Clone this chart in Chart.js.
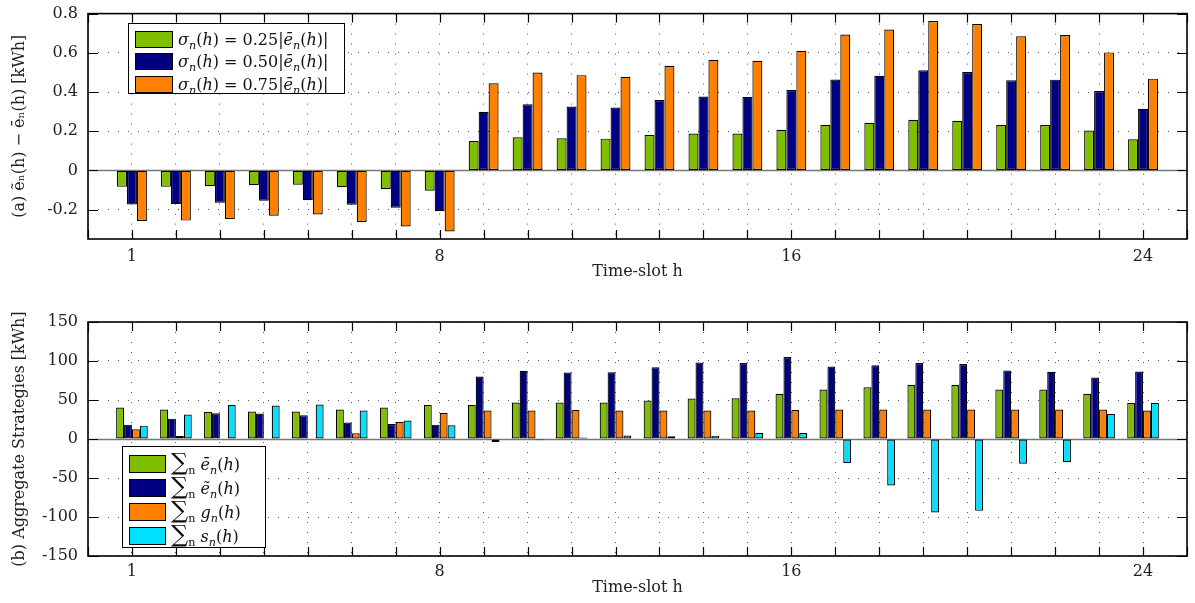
<!DOCTYPE html>
<html lang="en">
<head>
<meta charset="UTF-8">
<title>Deviation and aggregate strategies per time-slot</title>
<script src="https://cdn.jsdelivr.net/npm/chart.js"></script>
<style>
  body { margin: 0; background: #fff; font-family: "DejaVu Serif", "Liberation Serif", serif; color: #000; }
  #page { position: relative; width: 1195px; height: 603px; overflow: hidden; }
  canvas { position: absolute; left: 0; }
  #chartA { top: -6px; }
  #chartB { top: 300px; }
  .legend { position: absolute; background: #fff; border: 1px solid #000; box-sizing: border-box; font-size: 16px; color: #111; }
  #legendA { left: 128px; top: 23px; width: 217px; height: 71px; padding-top: 4px; }
  #legendB { left: 122px; top: 446px; width: 144px; height: 102px; padding-top: 5px; }
  .row { display: flex; align-items: center; padding-left: 6px; white-space: nowrap; }
  #legendA .row { height: 22.5px; }
  #legendB .row { height: 24px; }
  .sw { border: 1px solid #000; box-sizing: border-box; margin-right: 5px; flex: none; }
  #legendA .sw { width: 38px; height: 17px; }
  #legendB .sw { width: 37px; height: 18px; }
  sub { font-size: 70%; vertical-align: -0.35em; line-height: 0; }
  .sum { font-size: 24px; line-height: 0; }
</style>
</head>
<body>
<div id="page">
  <canvas id="chartA" width="1195" height="306"></canvas>
  <canvas id="chartB" width="1195" height="303"></canvas>
  <div id="legendA" class="legend"></div>
  <div id="legendB" class="legend"></div>
</div>
<script>
// time-slots 1..24, only some of them get a label
const slots = [1, 2, 3, 4, 5, 6, 7, 8, 9, 10, 11, 12, 13, 14, 15, 16, 17, 18, 19, 20, 21, 22, 23, 24];
const tickSlots = [1, 8, 16, 24];

// (a) deviation e~ - e_bar for the three sigma levels [kWh]
const dev25 = [-0.084, -0.084, -0.081, -0.076, -0.073, -0.086, -0.096, -0.104, 0.150, 0.169, 0.164, 0.162,
               0.180, 0.188, 0.188, 0.207, 0.233, 0.243, 0.258, 0.253, 0.231, 0.231, 0.203, 0.159];
const dev50 = [-0.174, -0.172, -0.165, -0.155, -0.152, -0.175, -0.190, -0.208, 0.299, 0.337, 0.326, 0.321,
               0.359, 0.377, 0.375, 0.410, 0.464, 0.483, 0.511, 0.502, 0.460, 0.463, 0.405, 0.314];
const dev75 = [-0.258, -0.256, -0.248, -0.231, -0.225, -0.263, -0.286, -0.312, 0.445, 0.499, 0.486, 0.478,
               0.534, 0.564, 0.559, 0.610, 0.693, 0.719, 0.762, 0.747, 0.684, 0.691, 0.602, 0.468];

// (b) aggregate strategies [kWh]
const sumEbar = [40.3, 37.7, 34.7, 35.1, 35.1, 37.7, 40.3, 43.7, 43.7, 46.7, 46.7, 46.7,
                 49.3, 51.9, 52.3, 57.9, 63.4, 66.4, 69.4, 69.4, 63.4, 63.4, 57.9, 46.3];
const sumEtilde = [18.4, 26.1, 33.0, 32.6, 30.4, 21.0, 19.3, 18.4, 80.1, 87.4, 85.3, 85.7,
                   92.1, 98.1, 97.3, 105.0, 93.0, 94.7, 97.3, 96.0, 87.9, 86.1, 78.9, 86.6];
const sumG = [12.4, 3.9, 0, 0, 0, 7.3, 21.9, 33.4, 36.4, 36.4, 37.3, 36.4,
              36.4, 36.4, 36.4, 37.3, 37.7, 37.7, 37.7, 37.7, 37.7, 37.7, 37.7, 36.4];
const sumS = [17.1, 31.3, 43.7, 42.9, 44.1, 36.4, 23.6, 17.6, -3.9, -1.6, 1.8, 4.5,
              3.5, 4.3, 8.1, 7.7, -30.9, -59.6, -94.3, -92.1, -31.7, -29.6, 32.1, 46.3];

const legendTextA = [
  '<i>σ<sub>n</sub></i>(<i>h</i>) = 0.25|<i>ē<sub>n</sub></i>(<i>h</i>)|',
  '<i>σ<sub>n</sub></i>(<i>h</i>) = 0.50|<i>ē<sub>n</sub></i>(<i>h</i>)|',
  '<i>σ<sub>n</sub></i>(<i>h</i>) = 0.75|<i>ē<sub>n</sub></i>(<i>h</i>)|'
];
const legendTextB = [
  '<span class="sum">∑</span><sub>n</sub>&nbsp;<i>ē<sub>n</sub></i>(<i>h</i>)',
  '<span class="sum">∑</span><sub>n</sub>&nbsp;<i>ẽ<sub>n</sub></i>(<i>h</i>)',
  '<span class="sum">∑</span><sub>n</sub>&nbsp;<i>g<sub>n</sub></i>(<i>h</i>)',
  '<span class="sum">∑</span><sub>n</sub>&nbsp;<i>s<sub>n</sub></i>(<i>h</i>)'
];

const GREEN = '#80bf00', NAVY = '#000080', ORANGE = '#ff8000', CYAN = '#00e1ff';

Chart.defaults.font.family = '"DejaVu Serif", "Liberation Serif", serif';
Chart.defaults.font.size = 16;
Chart.defaults.color = '#222';

function barSet(label, values, color) {
  return {
    label: label,
    data: values.map((v, i) => ({ x: slots[i], y: v })),
    backgroundColor: color,
    borderColor: '#000',
    borderWidth: 1.2,
    borderSkipped: false
  };
}

// frame box, inward tick marks and the zero line (matlab look)
const framePlugin = {
  id: 'frame',
  beforeDatasetsDraw(chart) {
    const { ctx, chartArea: a, scales: { y } } = chart;
    const y0 = Math.round(y.getPixelForValue(0)) + 0.5;
    ctx.save();
    ctx.strokeStyle = '#777';
    ctx.lineWidth = 1.5;
    ctx.beginPath();
    ctx.moveTo(a.left, y0);
    ctx.lineTo(a.right, y0);
    ctx.stroke();
    ctx.restore();
  },
  afterDraw(chart) {
    const { ctx, chartArea: a, scales: { x, y } } = chart;
    ctx.save();
    ctx.strokeStyle = '#000';
    ctx.lineWidth = 1.2;
    ctx.beginPath();
    x.ticks.forEach(t => {
      const px = Math.round(x.getPixelForValue(t.value)) + 0.5;
      ctx.moveTo(px, a.bottom); ctx.lineTo(px, a.bottom - 9);
      ctx.moveTo(px, a.top); ctx.lineTo(px, a.top + 9);
    });
    y.ticks.forEach(t => {
      const py = Math.round(y.getPixelForValue(t.value)) + 0.5;
      ctx.moveTo(a.left, py); ctx.lineTo(a.left + 10, py);
      ctx.moveTo(a.right, py); ctx.lineTo(a.right - 10, py);
    });
    ctx.stroke();
    ctx.lineWidth = 1.6;
    ctx.strokeRect(a.left, a.top, a.width, a.height);
    ctx.restore();
  }
};

// legend as html, filled from the datasets
const htmlLegend = {
  id: 'htmlLegend',
  afterUpdate(chart, args, opts) {
    const box = document.getElementById(opts.containerID);
    box.innerHTML = '';
    chart.data.datasets.forEach((ds, i) => {
      const row = document.createElement('div');
      row.className = 'row';
      const sw = document.createElement('span');
      sw.className = 'sw';
      sw.style.background = ds.backgroundColor;
      const txt = document.createElement('span');
      txt.innerHTML = opts.labels[i];
      row.append(sw, txt);
      box.append(row);
    });
  }
};

function makeOptions(cfg) {
  return {
    responsive: false,
    animation: false,
    categoryPercentage: cfg.catPct,
    barPercentage: 1,
    layout: { padding: { top: cfg.padTop, right: 8, left: 0, bottom: 0 } },
    plugins: {
      legend: { display: false },
      tooltip: { enabled: false },
      htmlLegend: { containerID: cfg.legendId, labels: cfg.legendText }
    },
    scales: {
      x: {
        type: 'linear',
        min: 0,
        max: 25,
        offset: false,
        afterFit: s => { s.height = cfg.xHeight; },
        ticks: {
          stepSize: 1,
          autoSkip: false,
          maxRotation: 0,
          padding: cfg.xTickPad,
          callback: v => tickSlots.includes(v) ? String(v) : ''
        },
        grid: { offset: false, drawTicks: false, color: '#555', lineWidth: 1 },
        border: { display: false, dash: [1, 9] },
        title: {
          display: true,
          text: 'Time-slot h',
          color: '#222',
          padding: { top: 0, bottom: cfg.xTitlePad }
        }
      },
      y: {
        min: cfg.yMin,
        max: cfg.yMax,
        afterFit: s => { s.width = 88; },
        ticks: {
          stepSize: cfg.yStep,
          includeBounds: false,
          padding: 10,
          callback: v => String(Math.round(v * 100) / 100)
        },
        grid: {
          drawTicks: false,
          lineWidth: 1,
          color: c => (c.tick && c.tick.value === 0) ? 'rgba(0,0,0,0)' : '#555'
        },
        border: { display: false, dash: [1, 9] },
        title: {
          display: true,
          text: cfg.yTitle,
          color: '#222',
          padding: { top: 10, bottom: 0 }
        }
      }
    }
  };
}

new Chart(document.getElementById('chartA'), {
  type: 'bar',
  data: {
    datasets: [
      barSet('σₙ(h) = 0.25|ēₙ(h)|', dev25, GREEN),
      barSet('σₙ(h) = 0.50|ēₙ(h)|', dev50, NAVY),
      barSet('σₙ(h) = 0.75|ēₙ(h)|', dev75, ORANGE)
    ]
  },
  options: makeOptions({
    catPct: 0.68, padTop: 12, xHeight: 61, xTickPad: 8, xTitlePad: 19,
    yMin: -0.35, yMax: 0.8, yStep: 0.2,
    yTitle: '(a) ẽₙ(h) − ēₙ(h) [kWh]',
    legendId: 'legendA', legendText: legendTextA
  }),
  plugins: [framePlugin, htmlLegend]
});

new Chart(document.getElementById('chartB'), {
  type: 'bar',
  data: {
    datasets: [
      barSet('∑ₙ ēₙ(h)', sumEbar, GREEN),
      barSet('∑ₙ ẽₙ(h)', sumEtilde, NAVY),
      barSet('∑ₙ gₙ(h)', sumG, ORANGE),
      barSet('∑ₙ sₙ(h)', sumS, CYAN)
    ]
  },
  options: makeOptions({
    catPct: 0.72, padTop: 22, xHeight: 47, xTickPad: 6, xTitlePad: 6,
    yMin: -150, yMax: 150, yStep: 50,
    yTitle: '(b) Aggregate Strategies [kWh]',
    legendId: 'legendB', legendText: legendTextB
  }),
  plugins: [framePlugin, htmlLegend]
});
</script>
</body>
</html>
